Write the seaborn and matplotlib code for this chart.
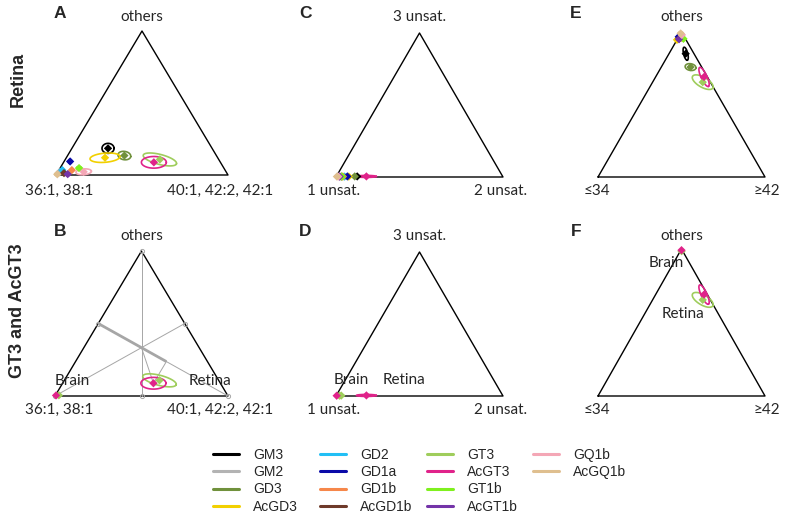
import numpy as np
import pandas as pd
import matplotlib
matplotlib.use('Agg')
import matplotlib.pyplot as plt
from matplotlib.lines import Line2D
import seaborn as sns

gangliosides = ['GM3', 'GM2', 'GD3', 'AcGD3', 'GD2', 'GD1a', 'GD1b', 'AcGD1b',
                'GT3', 'AcGT3', 'GT1b', 'AcGT1b', 'GQ1b', 'AcGQ1b']
colors = ['#000000', '#b3b3b3', '#70913c', '#f2d000', '#22bff5', '#0a0aa8', '#f6874a',
          '#6e3a2a', '#9fcd5c', '#e0238a', '#7ff01e', '#7434a8', '#f4a7b6', '#dfbf8f']

# Retina, ceramide species: share of "40:1, 42:2, 42:1" (right corner) and "others" (top)
fa_right = [0.21, 0.01, 0.33, 0.225, 0.02, 0.035, 0.075, 0.04, 0.55, 0.525, 0.11, 0.065, 0.15, 0.005]
fa_top = [0.185, 0.02, 0.135, 0.12, 0.034, 0.094, 0.034, 0.013, 0.108, 0.088, 0.048, 0.006, 0.022, 0.005]
fa_w = [0.07, 0.02, 0.075, 0.175, 0.02, 0.02, 0.02, 0.025, 0.20, 0.145, 0.03, 0.03, 0.09, 0.03]
fa_h = [0.06, 0.02, 0.05, 0.055, 0.02, 0.025, 0.02, 0.02, 0.06, 0.07, 0.02, 0.02, 0.035, 0.02]
fa_ang = [0, 0, -10, 5, 0, 0, 0, 0, -15, 0, 0, 0, 5, 0]

# Retina, unsaturation: share of "2 unsat." (right) and "3 unsat." (top)
un_right = [0.125, 0.02, 0.11, 0.075, 0.05, 0.066, 0.04, 0.03, 0.03, 0.18, 0.035, 0.02, 0.012, 0.004]
un_top = [0.004, 0.003, 0.004, 0.003, 0.003, 0.004, 0.003, 0.003, 0.003, 0.004, 0.003, 0.003, 0.003, 0.003]
un_w = [0.025, 0.02, 0.03, 0.02, 0.02, 0.025, 0.02, 0.02, 0.03, 0.12, 0.02, 0.02, 0.025, 0.025]
un_h = [0.015, 0.012, 0.015, 0.012, 0.012, 0.015, 0.012, 0.012, 0.012, 0.012, 0.012, 0.012, 0.015, 0.015]
un_ang = [0] * 14

# Retina, chain length: share of ">=42" (right) and "others" (top)
len_right = [0.10, 0.01, 0.175, 0.0, 0.01, 0.0, 0.02, 0.01, 0.30, 0.29, 0.035, 0.01, 0.012, 0.0]
len_top = [0.85, 0.97, 0.758, 0.946, 0.96, 0.967, 0.96, 0.955, 0.654, 0.69, 0.953, 0.95, 0.98, 0.99]
len_w = [0.08, 0.02, 0.065, 0.025, 0.02, 0.025, 0.02, 0.02, 0.14, 0.125, 0.025, 0.02, 0.03, 0.03]
len_h = [0.025, 0.02, 0.04, 0.02, 0.02, 0.02, 0.02, 0.02, 0.06, 0.035, 0.02, 0.02, 0.02, 0.02]
len_ang = [-76, 0, -10, 0, 0, 0, 0, 0, -30, -65, 0, 0, 0, 0]

# Brain GT3 / AcGT3, same three compositions
brain_names = ['GT3', 'AcGT3']
brain_fa_right = [0.02, 0.004]
brain_fa_top = [0.005, 0.004]
brain_un_right = [0.02, 0.003]
brain_un_top = [0.002, 0.002]
brain_len_right = [0.008, 0.004]
brain_len_top = [0.985, 0.992]

palette = dict(zip(gangliosides, colors))
S = np.sqrt(3) / 2
W_PX, H_PX = 786, 515


def tern_xy(right, top):
    right = np.asarray(right, float)
    top = np.asarray(top, float)
    return right + top / 2, top * S


def ellipse_df(names, right, top, w, h, ang, tissue):
    t = np.linspace(0, 2 * np.pi, 80)
    parts = []
    for n, r, tp, ww, hh, a in zip(names, right, top, w, h, ang):
        cx, cy = tern_xy(r, tp)
        th = np.deg2rad(a)
        ex = cx + ww / 2 * np.cos(t) * np.cos(th) - hh / 2 * np.sin(t) * np.sin(th)
        ey = cy + ww / 2 * np.cos(t) * np.sin(th) + hh / 2 * np.sin(t) * np.cos(th)
        parts.append(pd.DataFrame({'x': ex, 'y': ey, 'ganglioside': n, 'unit': n + tissue}))
    return pd.concat(parts, ignore_index=True)


def point_df(names, right, top):
    x, y = tern_xy(right, top)
    return pd.DataFrame({'x': x, 'y': y, 'ganglioside': names})


def make_ax(fig, L, R, base, apex, pad=40):
    w = R - L
    hy = (base - apex) / S
    ax = fig.add_axes([(L - pad) / W_PX, (H_PX - base - pad) / H_PX,
                       (w + 2 * pad) / W_PX, (base - apex + 2 * pad) / H_PX])
    ax.set_xlim(-pad / w, 1 + pad / w)
    ax.set_ylim(-pad / hy, S + pad / hy)
    ax.axis('off')
    ax.plot([0, 1, 0.5, 0], [0, 0, S, 0], color='black', lw=1.0, zorder=1)
    return ax


def draw_data(ax, ell, pts):
    sns.lineplot(data=ell, x='x', y='y', hue='ganglioside', units='unit', estimator=None,
                 sort=False, palette=palette, legend=False, lw=1.2, ax=ax, zorder=2)
    sns.scatterplot(data=pts, x='x', y='y', hue='ganglioside', palette=palette, marker='D',
                    s=18, linewidth=0, legend=False, ax=ax, zorder=3)
    ax.set_xlabel('')
    ax.set_ylabel('')


def corner_labels(fig, L, R, base, apex, left, right, top, row_y, top_y, dl=0, dr=0):
    fx = lambda px: px / W_PX
    fy = lambda py: 1 - py / H_PX
    fig.text(fx(L + dl), fy(row_y), left, ha='center', va='center', fontsize=11, family='Lato')
    fig.text(fx(R + dr), fy(row_y), right, ha='center', va='center', fontsize=11, family='Lato')
    fig.text(fx((L + R) / 2), fy(top_y), top, ha='center', va='center', fontsize=11, family='Lato')


def draw_guides(ax, right, top):
    gray = '#a6a6a6'
    verts = np.array([[0, 0], [1, 0], [0.5, S]])
    mids = np.array([[0.75, S / 2], [0.25, S / 2], [0.5, 0]])
    for v, m in zip(verts, mids):
        ax.plot([v[0], m[0]], [v[1], m[1]], color=gray, lw=0.7, zorder=1)
    marks = np.vstack([verts, mids])
    ax.plot(marks[:, 0], marks[:, 1], 'o', ms=3, mfc='none', mec=gray, mew=0.7, zorder=1)
    px, py = tern_xy(right, top)
    p = np.array([float(px), float(py)])
    cen = verts.mean(axis=0)
    d = mids[1] - verts[1]
    d = d / np.linalg.norm(d)
    foot = verts[1] + np.dot(p - verts[1], d) * d
    ax.plot([mids[1][0], foot[0]], [mids[1][1], foot[1]], color=gray, lw=2.0,
            solid_capstyle='butt', zorder=1)
    ax.plot([cen[0], p[0]], [cen[1], p[1]], color=gray, lw=0.7, zorder=1)
    ax.plot([foot[0], p[0]], [foot[1], p[1]], color=gray, lw=0.7, zorder=1)


sns.set_style('white')
plt.rcParams['font.family'] = ['Liberation Sans', 'DejaVu Sans']

fig = plt.figure(figsize=(7.86, 5.15), dpi=100)

layout = {
    'A': (56, 228, 175, 31),
    'C': (336, 503, 177, 33),
    'E': (598, 765, 177, 32),
    'B': (55, 228, 396, 251),
    'D': (336, 503, 396, 252),
    'F': (598, 765, 396, 249),
}

# retina panels
retina_sets = {
    'A': (fa_right, fa_top, fa_w, fa_h, fa_ang),
    'C': (un_right, un_top, un_w, un_h, un_ang),
    'E': (len_right, len_top, len_w, len_h, len_ang),
}
for key, (r, t, w, h, a) in retina_sets.items():
    ax = make_ax(fig, *layout[key])
    draw_data(ax, ellipse_df(gangliosides, r, t, w, h, a, '_retina'),
              point_df(gangliosides, r, t))

# GT3 / AcGT3 panels, brain vs retina
idx = [gangliosides.index(n) for n in brain_names]
brain_sets = {
    'B': ('A', brain_fa_right, brain_fa_top),
    'D': ('C', brain_un_right, brain_un_top),
    'F': ('E', brain_len_right, brain_len_top),
}
for key, (src, br, bt) in brain_sets.items():
    r, t, w, h, a = retina_sets[src]
    ax = make_ax(fig, *layout[key])
    if key == 'B':
        draw_guides(ax, r[idx[1]], t[idx[1]])
    ell = pd.concat([
        ellipse_df(brain_names, [r[i] for i in idx], [t[i] for i in idx],
                   [w[i] for i in idx], [h[i] for i in idx], [a[i] for i in idx], '_retina'),
        ellipse_df(brain_names, br, bt, [0.02, 0.015], [0.015, 0.015], [0, 0], '_brain'),
    ], ignore_index=True)
    pts = pd.concat([point_df(brain_names, [r[i] for i in idx], [t[i] for i in idx]),
                     point_df(brain_names, br, bt)], ignore_index=True)
    draw_data(ax, ell, pts)

# corner labels
fa_labels = ('36:1, 38:1', '40:1, 42:2, 42:1', 'others')
un_labels = ('1 unsat.', '2 unsat.', '3 unsat.')
len_labels = ('\u226434', '\u226542', 'others')
for key, labs, dl, dr in [('A', fa_labels, 3, -8), ('B', fa_labels, 4, -8),
                          ('C', un_labels, -2, -2), ('D', un_labels, -2, -2),
                          ('E', len_labels, -1, 2), ('F', len_labels, -1, 2)]:
    L, R, base, apex = layout[key]
    row_y = 191 if base < 300 else 410
    top_y = 17 if base < 300 else 236
    corner_labels(fig, L, R, base, apex, *labs, row_y, top_y, dl, dr)

# Brain / Retina annotations
for text, px, py in [('Brain', 72, 381), ('Retina', 210, 381),
                     ('Brain', 351, 380), ('Retina', 404, 380),
                     ('Brain', 666, 263), ('Retina', 683, 314)]:
    fig.text(px / W_PX, 1 - py / H_PX, text, ha='center', va='center', fontsize=11, family='Lato')

# panel letters and row titles
for letter, px, py in [('A', 60, 13), ('B', 60, 231), ('C', 305, 13),
                       ('D', 305, 231), ('E', 576, 13), ('F', 576, 231)]:
    fig.text(px / W_PX, 1 - py / H_PX, letter, ha='center', va='center',
             fontsize=12.5, fontweight='bold')
fig.text(18 / W_PX, 1 - 79 / H_PX, 'Retina', rotation=90, ha='center', va='center',
         fontsize=13, fontweight='bold')
fig.text(18 / W_PX, 1 - 311 / H_PX, 'GT3 and AcGT3', rotation=90, ha='center', va='center',
         fontsize=13, fontweight='bold')

# legend: four columns of four, each column placed on its own
col_x = [213, 320, 427, 533]
for c, x0 in enumerate(col_x):
    names = gangliosides[4 * c:4 * c + 4]
    hs = [Line2D([0], [0], color=palette[n], lw=2.2) for n in names]
    fig.legend(hs, names, loc='upper left', frameon=False,
               bbox_to_anchor=(x0 / W_PX, 1 - 448 / H_PX), borderaxespad=0, borderpad=0,
               fontsize=10, handlelength=1.9, handletextpad=1.0, labelspacing=0.23)

fig.savefig('out.png', dpi=100)
plt.close(fig)
